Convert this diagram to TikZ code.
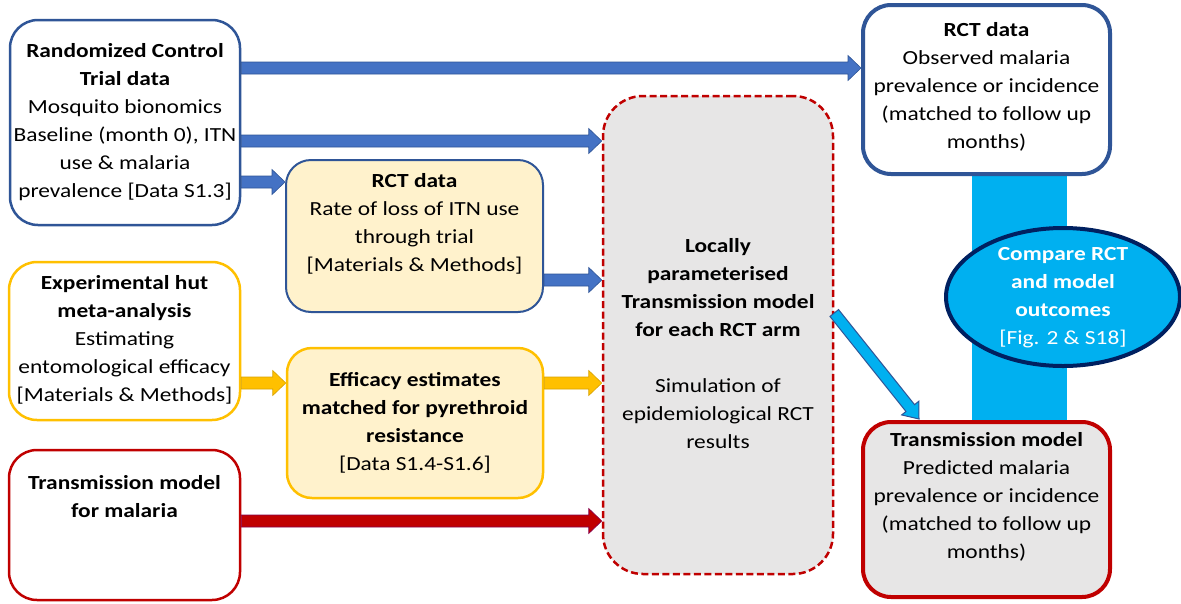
\documentclass[tikz,border=0pt]{standalone}
\usepackage{fontspec}
\setmainfont{Carlito}[FakeStretch=1.17]
\usetikzlibrary{calc,shapes.geometric}
\definecolor{bborder}{HTML}{2F5597}
\definecolor{barrowc}{HTML}{4472C4}
\definecolor{yel}{HTML}{FFC000}
\definecolor{lyel}{HTML}{FFF2CC}
\definecolor{mred}{HTML}{C00000}
\definecolor{lgray}{HTML}{E7E6E6}
\definecolor{sky}{HTML}{00B0F0}
\definecolor{mnavy}{HTML}{002060}
\newcommand\sw{6pt}
\newcommand\hw{12.5pt}
\newcommand\hl{13pt}
% block arrow: #1 style, #2 start, #3 end
\newcommand\blkarrow[3]{%
  \path (#2) coordinate (bas) (#3) coordinate (bae);
  \path ($(bae)!\hl!(bas)$) coordinate (bah);
  \draw[#1] ($(bas)!\sw!90:(bae)$) -- ($(bah)!\sw!-90:(bas)$)
     -- ($(bah)!\hw!-90:(bas)$) -- (bae) -- ($(bah)!\hw!90:(bas)$)
     -- ($(bah)!\sw!90:(bas)$) -- ($(bas)!\sw!-90:(bae)$) -- cycle;
}
\begin{document}
\begin{tikzpicture}[x=1pt,y=-1pt,
  every node/.style={font=\fontsize{20}{28}\selectfont},
  box/.style={draw, line width=2.5pt, rounded corners=28pt, inner sep=0pt},
  txt/.style={align=center, inner sep=0pt},
  bluearr/.style={fill=barrowc, draw=bborder, line width=0.6pt},
  yelarr/.style={fill=yel, draw=yel!85!black, line width=0.6pt},
  redarr/.style={fill=mred, draw=mred!70!blue, line width=0.6pt},
  skyarr/.style={fill=sky, draw=bborder, line width=1pt}]
\useasboundingbox (0,0) rectangle (1181,603);
\fill[white] (0,0) rectangle (1181,603);
% comparison bar
\fill[sky] (972,174) rectangle (1067,422);
% boxes
\node[box, draw=bborder, fill=white, minimum width=230pt, minimum height=205pt] (main) at (125,122.5) {};
\node[txt] (maint) at (125,122) {\textbf{Randomized Control}\\\textbf{Trial data}\\Mosquito bionomics\\Baseline (month 0), ITN\\use \& malaria\\prevalence [Data S1.3]};
\node[box, draw=bborder, fill=lyel, line width=2pt, rounded corners=25pt, minimum width=257pt, minimum height=152pt] (rctl) at (414.5,236) {};
\node[txt] (rctlt) at (414.5,224) {\textbf{RCT data}\\Rate of loss of ITN use\\through trial\\{}[Materials \& Methods]};
\node[box, draw=yel, fill=white, minimum width=231pt, minimum height=158pt] (hut) at (124.5,341) {};
\node[txt] (hutt) at (124.5,340) {\textbf{Experimental hut}\\\textbf{meta-analysis}\\Estimating\\entomological efficacy\\{}[Materials \& Methods]};
\node[box, draw=mred, fill=white, minimum width=231pt, minimum height=150pt] (tmm) at (124.5,525) {};
\node[txt] (tmmt) at (124.5,497) {\textbf{Transmission model}\\\textbf{for malaria}};
\node[box, draw=yel, fill=lyel, rounded corners=25pt, minimum width=256pt, minimum height=150pt] (eff) at (415,423) {};
\node[txt] (efft) at (415,423) {\textbf{Efficacy estimates}\\\textbf{matched for pyrethroid}\\\textbf{resistance}\\{}[Data S1.4-S1.6]};
\node[box, draw=mred, fill=lgray, dash pattern=on 7pt off 3.5pt, rounded corners=40pt, minimum width=230pt, minimum height=478pt] (cen) at (718,335) {};
\node[txt] (cent) at (718,344) {\textbf{Locally}\\\textbf{parameterised}\\\textbf{Transmission model}\\\textbf{for each RCT arm}\\[28pt]Simulation of\\epidemiological RCT\\results};
\node[box, draw=bborder, fill=white, line width=4pt, minimum width=247pt, minimum height=169pt] (rct2) at (986.5,89.5) {};
\node[txt] (rct2t) at (986.5,86.5) {\textbf{RCT data}\\Observed malaria\\prevalence or incidence\\(matched to follow up\\months)};
\node[box, draw=mred, fill=lgray, line width=4pt, minimum width=247pt, minimum height=175pt] (trm) at (986.5,509.5) {};
\node[txt] (trmt) at (986.5,496.5) {\textbf{Transmission model}\\Predicted malaria\\prevalence or incidence\\(matched to follow up\\months)};
\node[ellipse, draw=mnavy, line width=4pt, fill=sky, minimum width=234pt, minimum height=138pt, inner sep=0pt] (cmp) at (1063,297) {};
\node[txt, text=white] (cmpt) at (1063,298) {\textbf{Compare RCT}\\\textbf{and model}\\\textbf{outcomes}\\{}[Fig. 2 \& S18]};
% arrows
\coordinate (a1) at ($(main.east)+(0,-54.5)$);
\coordinate (a2) at ($(main.east)+(0,18.5)$);
\coordinate (a3) at ($(main.east)+(0,59.5)$);
\coordinate (a4) at ($(rctl.east)+(0,44)$);
\coordinate (a5) at ($(hut.east)+(0,42)$);
\coordinate (a6) at ($(eff.east)+(0,-40)$);
\coordinate (a7) at ($(tmm.east)+(0,-4)$);
\coordinate (d1) at ($(cen.east)+(0,-22)$);
\coordinate (d2) at ($(trm.north west)+(58,-1)$);
\blkarrow{bluearr}{a1}{a1 -| rct2.west}
\blkarrow{bluearr}{a2}{a2 -| cen.west}
\blkarrow{bluearr}{a3}{a3 -| rctl.west}
\blkarrow{bluearr}{a4}{a4 -| cen.west}
\blkarrow{yelarr}{a5}{a5 -| eff.west}
\blkarrow{yelarr}{a6}{a6 -| cen.west}
\blkarrow{redarr}{a7}{a7 -| cen.west}
\renewcommand\sw{5.5pt}\renewcommand\hw{11pt}\renewcommand\hl{14pt}
\blkarrow{skyarr}{d1}{d2}
\end{tikzpicture}
\end{document}
